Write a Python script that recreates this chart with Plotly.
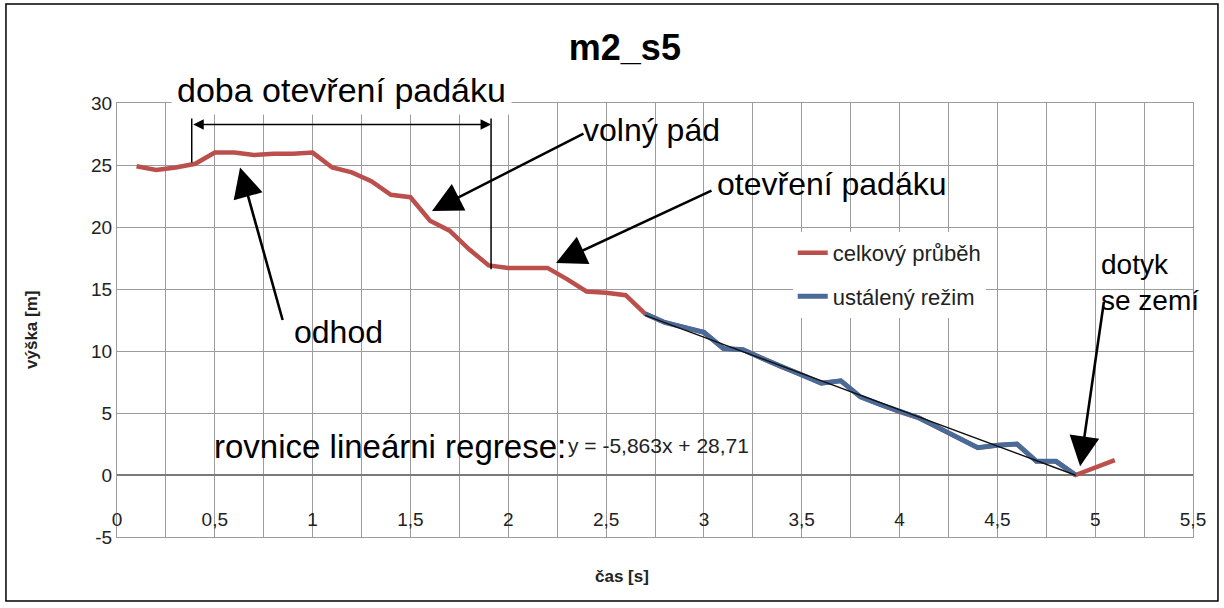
import numpy as np
import plotly.graph_objects as go

# Measured height of the model rocket payload over time
cas = [0.1, 0.2, 0.3, 0.4, 0.5, 0.6, 0.7, 0.8, 0.9, 1.0,
       1.1, 1.2, 1.3, 1.4, 1.5, 1.6, 1.7, 1.8, 1.9, 2.0,
       2.1, 2.2, 2.3, 2.4, 2.5, 2.6, 2.7, 2.8, 2.9, 3.0,
       3.1, 3.2, 3.3, 3.4, 3.5, 3.6, 3.7, 3.8, 3.9, 4.0,
       4.1, 4.2, 4.3, 4.4, 4.5, 4.6, 4.7, 4.8, 4.9, 5.0, 5.1]
vyska = [24.9, 24.6, 24.8, 25.1, 26.0, 26.0, 25.8, 25.9, 25.9, 26.0,
         24.8, 24.4, 23.7, 22.6, 22.4, 20.5, 19.7, 18.2, 16.9, 16.7,
         16.7, 16.7, 15.8, 14.8, 14.7, 14.5, 13.0, 12.3, 11.9, 11.5,
         10.2, 10.1, 9.4, 8.7, 8.1, 7.4, 7.6, 6.3, 5.7, 5.1,
         4.6, 3.8, 3.0, 2.2, 2.4, 2.5, 1.1, 1.1, 0.0, 0.6, 1.2]

# steady descent interval and its linear fit
ustaleny_od = 2.7
ustaleny_do = 4.9
smernice = -5.863
posun = 28.71

# parachute opening interval marked above the curve
otevreni_od = 0.382
otevreni_do = 1.912

x_ticks = [0, 0.5, 1, 1.5, 2, 2.5, 3, 3.5, 4, 4.5, 5, 5.5]
x_tick_labels = ["0", "0,5", "1", "1,5", "2", "2,5", "3", "3,5", "4", "4,5", "5", "5,5"]
y_ticks = [-5, 0, 5, 10, 15, 20, 25, 30]
y_tick_labels = ["-5", "0", "5", "10", "15", "20", "25", "30"]

FONT = "Liberation Sans, Arial, sans-serif"
RED = "#bb4f4c"
BLUE = "#4a6b98"
GRID = "#9c9c9c"


def cz(v):
    return f"{v}".replace(".", ",")


t = np.array(cas)
h = np.array(vyska)
mask = (t >= ustaleny_od - 1e-9) & (t <= ustaleny_do + 1e-9)

fig = go.Figure()
fig.add_trace(go.Scatter(x=t, y=h, mode="lines", name="celkový průběh",
                         line=dict(color=RED, width=4.5), legendgroup="a"))
fig.add_trace(go.Scatter(x=t[mask], y=h[mask], mode="lines", name="ustálený režim",
                         line=dict(color=BLUE, width=5), legendgroup="b"))
fit_x = np.array([ustaleny_od, ustaleny_do])
fig.add_trace(go.Scatter(x=fit_x, y=smernice * fit_x + posun, mode="lines",
                         line=dict(color="#111111", width=1.4), showlegend=False,
                         hoverinfo="skip"))

big = dict(family=FONT, size=32, color="#000000")
ann = []

# text labels
ann.append(dict(x=0.2082, y=1.03, xref="paper", yref="paper", text="doba otevření padáku",
                showarrow=False, font=dict(family=FONT, size=34, color="#000000"),
                bgcolor="white", borderpad=5, xanchor="center", yanchor="middle"))
ann.append(dict(x=2.73, y=27.8, xref="x", yref="y", text="volný pád",
                showarrow=False, font=big))
ann.append(dict(x=3.655, y=23.5, xref="x", yref="y", text="otevření padáku",
                showarrow=False, font=big))
ann.append(dict(x=1.13, y=11.55, xref="x", yref="y", text="odhod",
                showarrow=False, font=big))
ann.append(dict(x=5.02, y=15.5, xref="x", yref="y", text="dotyk<br>se zemí",
                showarrow=False, align="left", xanchor="left",
                font=dict(family=FONT, size=28, color="#000000")))
ann.append(dict(x=0.486, y=2.26, xref="x", yref="y", text="rovnice lineárni regrese:",
                showarrow=False, xanchor="left",
                font=dict(family=FONT, size=33, color="#000000")))
ann.append(dict(x=2.296, y=2.4, xref="x", yref="y",
                text=f"y = {cz(smernice)}x + {cz(posun)}",
                showarrow=False, xanchor="left",
                font=dict(family=FONT, size=21, color="#222222")))

# pointer arrows (tip in data units, tail offset in pixels)
arrows = [
    (1.610, 21.3, 153, -78),
    (2.244, 17.1, 157, -73),
    (0.629, 24.8, 43, 154),
    (4.923, 0.7, 24, -166),
]
for ax_x, ax_y, dx, dy in arrows:
    ann.append(dict(x=ax_x, y=ax_y, xref="x", yref="y", text="", showarrow=True,
                    ax=dx, ay=dy, arrowhead=2, arrowsize=2.3, arrowwidth=2.6,
                    arrowcolor="#000000", standoff=0))

# double arrow for the opening interval
ann.append(dict(x=otevreni_do, y=28.27, xref="x", yref="y", text="", showarrow=True,
                ax=otevreni_od, ay=28.27, axref="x", ayref="y",
                arrowhead=2, startarrowhead=2, arrowside="end+start",
                arrowsize=1.4, startarrowsize=1.4, arrowwidth=1.5,
                arrowcolor="#000000", standoff=0, startstandoff=0))

# axis titles
ann.append(dict(x=-0.079, y=0.477, xref="paper", yref="paper", text="výška [m]",
                showarrow=False, textangle=-90, xanchor="center", yanchor="middle",
                font=dict(family=FONT, size=17, color="#222222", weight="bold")))
ann.append(dict(x=0.469, y=-0.09, xref="paper", yref="paper", text="čas [s]",
                showarrow=False, xanchor="center", yanchor="middle",
                font=dict(family=FONT, size=17, color="#222222", weight="bold")))

shapes = [
    dict(type="line", xref="x", yref="y", x0=otevreni_od, x1=otevreni_od, y0=28.75, y1=25.2,
         line=dict(color="#000000", width=1.5)),
    dict(type="line", xref="x", yref="y", x0=otevreni_do, x1=otevreni_do, y0=28.75, y1=16.6,
         line=dict(color="#000000", width=1.5)),
    # outer frame of the chart
    dict(type="rect", xref="paper", yref="paper", x0=-0.1032, x1=1.0232, y0=-0.1475, y1=1.2281,
         line=dict(color="#000000", width=1.5), fillcolor="rgba(0,0,0,0)", layer="above"),
]

fig.update_layout(
    width=1224, height=608,
    margin=dict(l=117, r=31, t=103, b=71),
    paper_bgcolor="white", plot_bgcolor="white",
    separators=", ",
    font=dict(family=FONT, color="#222222"),
    title=dict(text="m2_s5", x=0.472, xref="paper", y=1 - 47 / 608, yref="container",
               xanchor="center", yanchor="middle",
               font=dict(family=FONT, size=36, color="#000000", weight="bold")),
    legend=dict(x=0.628, y=0.703, xanchor="left", yanchor="top", bgcolor="white",
                font=dict(family=FONT, size=22, color="#222222"),
                tracegroupgap=12),
    annotations=ann,
    shapes=shapes,
    showlegend=True,
)

fig.update_xaxes(range=[0, 5.5], tickvals=x_ticks, ticktext=x_tick_labels,
                 showgrid=True, gridcolor=GRID, gridwidth=1,
                 minor=dict(dtick=0.25, tick0=0, showgrid=True, gridcolor=GRID, gridwidth=1),
                 showline=True, linecolor=GRID, mirror=True, zeroline=False,
                 ticks="", ticklabelposition="inside", ticklabeloverflow="allow",
                 ticklabelstandoff=8,
                 tickfont=dict(family=FONT, size=19, color="#222222"))
fig.update_yaxes(range=[-5, 30], tickvals=y_ticks, ticktext=y_tick_labels,
                 showgrid=True, gridcolor=GRID, gridwidth=1,
                 showline=True, linecolor=GRID, mirror=True,
                 zeroline=True, zerolinecolor="#7a7a7a", zerolinewidth=1.5,
                 ticks="", ticklabelstandoff=0,
                 tickfont=dict(family=FONT, size=19, color="#222222"))

fig.write_html("out.html")
